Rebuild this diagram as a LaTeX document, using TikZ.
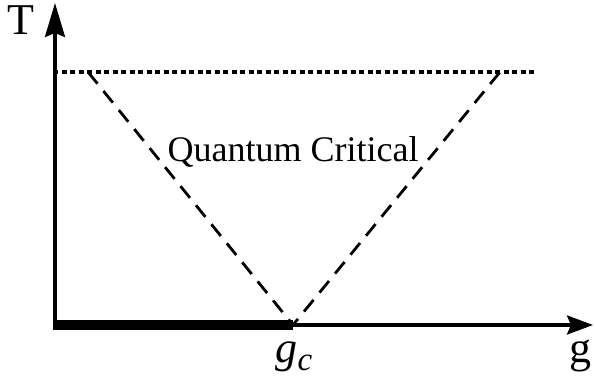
\documentclass[tikz,border=0pt]{standalone}
\usepackage{fontspec}
\setmainfont{Liberation Serif}
\usetikzlibrary{arrows.meta}

\begin{document}
\begin{tikzpicture}[
  x=1pt, y=-1pt,
  axis/.style={line width=3.2pt},
  crossover/.style={line width=2.8pt, dash pattern=on 15pt off 9.5pt},
  boundary/.style={line width=3.6pt, dash pattern=on 5pt off 3.5pt},
  lbl/.style={inner sep=0pt, anchor=base}
]
\useasboundingbox (0,0) rectangle (595,377);

\coordinate (O) at (55,325);
\coordinate (Ttop) at (55,3);
\coordinate (gend) at (593,325);
\coordinate (gc) at (293,325);
\coordinate (dotS) at (53,72);
\coordinate (dotE) at (534,72);
\coordinate (L) at (88,72);
\coordinate (R) at (500,72);

% ordered phase at T=0
\draw[line width=10pt] ([xshift=-2pt]O) -- (gc);

\draw[axis, -{Stealth[length=34pt, width=20pt, inset=4pt]}] (O) -- (Ttop);
\draw[axis, -{Stealth[length=26pt, width=19pt, inset=4pt]}] (O) -- (gend);

\draw[boundary] (dotS) -- (dotE);
\draw[crossover] (L) -- (gc) -- (R);

\node[lbl, font=\fontsize{44}{44}\selectfont] (Tlbl) at (21,35) {T};
\node[lbl, font=\fontsize{44}{44}\selectfont] (glbl) at (580,362) {g};
\node[lbl, font=\fontsize{44}{44}\selectfont\itshape] (gclbl) at (294,362)
  {g\raisebox{-8pt}{\fontsize{33}{33}\selectfont c}};
\node[lbl, font=\fontsize{36}{36}\selectfont] (qc) at (293,162) {Quantum Critical};
\end{tikzpicture}
\end{document}
